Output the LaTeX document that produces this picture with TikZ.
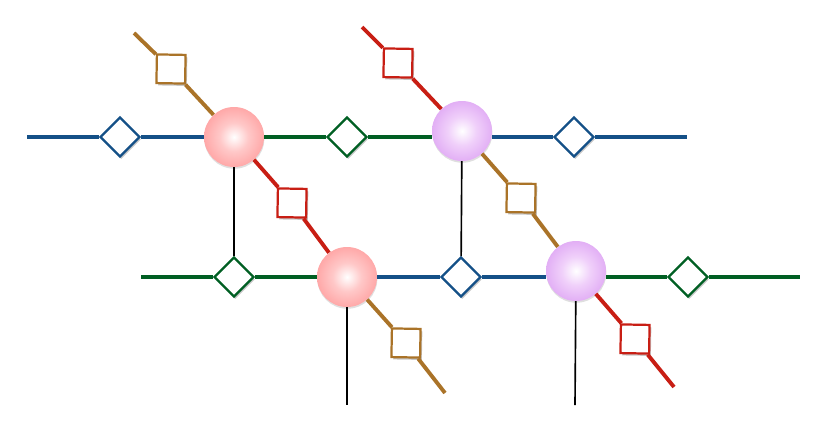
\documentclass[tikz,border=0pt]{standalone}
\usetikzlibrary{shapes.geometric,shadows}
\definecolor{lineblue}{RGB}{20,80,135}
\definecolor{linegreen}{RGB}{0,95,35}
\definecolor{linebrown}{RGB}{170,115,40}
\definecolor{linered}{RGB}{200,30,20}
\definecolor{pinkmid}{RGB}{255,200,200}
\definecolor{pinkrim}{RGB}{255,168,168}
\definecolor{purplemid}{RGB}{240,208,250}
\definecolor{purplerim}{RGB}{226,175,245}
\pgfdeclareradialshading{pinkball}{\pgfpoint{0bp}{0bp}}{color(0bp)=(white); color(12bp)=(pinkmid); color(25bp)=(pinkrim); color(50bp)=(pinkrim)}
\pgfdeclareradialshading{purpleball}{\pgfpoint{0bp}{0bp}}{color(0bp)=(white); color(12bp)=(purplemid); color(25bp)=(purplerim); color(50bp)=(purplerim)}
\tikzset{
ball/.style={circle, minimum size=1.8cm, inner sep=0pt, drop shadow={shadow xshift=0.3pt, shadow yshift=-1.5pt, opacity=0.25}},
dia/.style={diamond, aspect=1, minimum size=1.2cm, inner sep=0pt, fill=white, draw=#1, line width=1.9pt, drop shadow={shadow xshift=1pt, shadow yshift=-2pt, opacity=0.45}},
sq/.style={rectangle, minimum size=0.86cm, inner sep=0pt, fill=white, draw=#1, line width=1.9pt, drop shadow={shadow xshift=1.5pt, shadow yshift=-2pt, opacity=0.45}},
wire/.style={line width=3.3pt, draw=#1},
leg/.style={line width=1.4pt, draw=black}
}
\begin{document}
\begin{tikzpicture}[x=0.03cm,y=-0.03cm]
\useasboundingbox (0,0) rectangle (819,445);
\coordinate (bl1) at (27,137);
\coordinate (bl2) at (687,137);
\coordinate (gl1) at (141,277);
\coordinate (gl2) at (800,277);
\coordinate (tp1) at (134,33);
\coordinate (tp2) at (362,27);
\coordinate (bt1) at (445,393);
\coordinate (bt2) at (674,387);
\coordinate (lg1) at (347,405);
\coordinate (lg2) at (575,405);
\node[ball, shading=pinkball] (site0) at (234,137){};
\node[ball, shading=purpleball] (site1) at (462,131){};
\node[ball, shading=pinkball] (site2) at (347,277){};
\node[ball, shading=purpleball] (site3) at (576,271){};
\node[dia=lineblue] (dia0) at (120,137){};
\node[dia=linegreen] (dia1) at (347,137){};
\node[dia=lineblue] (dia2) at (574,137){};
\node[dia=linegreen] (dia3) at (234,277){};
\node[dia=lineblue] (dia4) at (461,277){};
\node[dia=linegreen] (dia5) at (688,277){};
\node[sq=linebrown, rotate=-1] (sq0) at (171,69){};
\node[sq=linered, rotate=-1] (sq1) at (398,63){};
\node[sq=linered, rotate=-1] (sq2) at (292,203){};
\node[sq=linebrown, rotate=-1] (sq3) at (521,198){};
\node[sq=linebrown, rotate=-1] (sq4) at (406,343){};
\node[sq=linered, rotate=-1] (sq5) at (635,339){};
\draw[wire=lineblue] (bl1) -- (dia0);
\draw[wire=lineblue] (dia0) -- (site0);
\draw[wire=linegreen] (site0) -- (dia1);
\draw[wire=linegreen] (dia1) -- (dia1 -| site1.west);
\draw[wire=lineblue] (dia2 -| site1.east) -- (dia2);
\draw[wire=lineblue] (dia2) -- (bl2);
\draw[wire=linegreen] (gl1) -- (dia3);
\draw[wire=linegreen] (dia3) -- (site2);
\draw[wire=lineblue] (site2) -- (dia4);
\draw[wire=lineblue] (dia4) -- (dia4 -| site3.west);
\draw[wire=linegreen] (dia5 -| site3.east) -- (dia5);
\draw[wire=linegreen] (dia5) -- (gl2);
\draw[wire=linebrown] (tp1) -- (sq0);
\draw[wire=linebrown] (sq0) -- (site0);
\draw[wire=linered] (site0) -- (sq2);
\draw[wire=linered] (sq2) -- (site2);
\draw[wire=linebrown] (site2) -- (sq4);
\draw[wire=linebrown] (sq4) -- (bt1);
\draw[wire=linered] (tp2) -- (sq1);
\draw[wire=linered] (sq1) -- (site1);
\draw[wire=linebrown] (site1) -- (sq3);
\draw[wire=linebrown] (sq3) -- (site3);
\draw[wire=linered] (site3) -- (sq5);
\draw[wire=linered] (sq5) -- (bt2);
\draw[leg] (site0) -- (dia3);
\draw[leg] (site1) -- (dia4);
\draw[leg] (site2) -- (lg1);
\draw[leg] (site3) -- (lg2);
\end{tikzpicture}
\end{document}
